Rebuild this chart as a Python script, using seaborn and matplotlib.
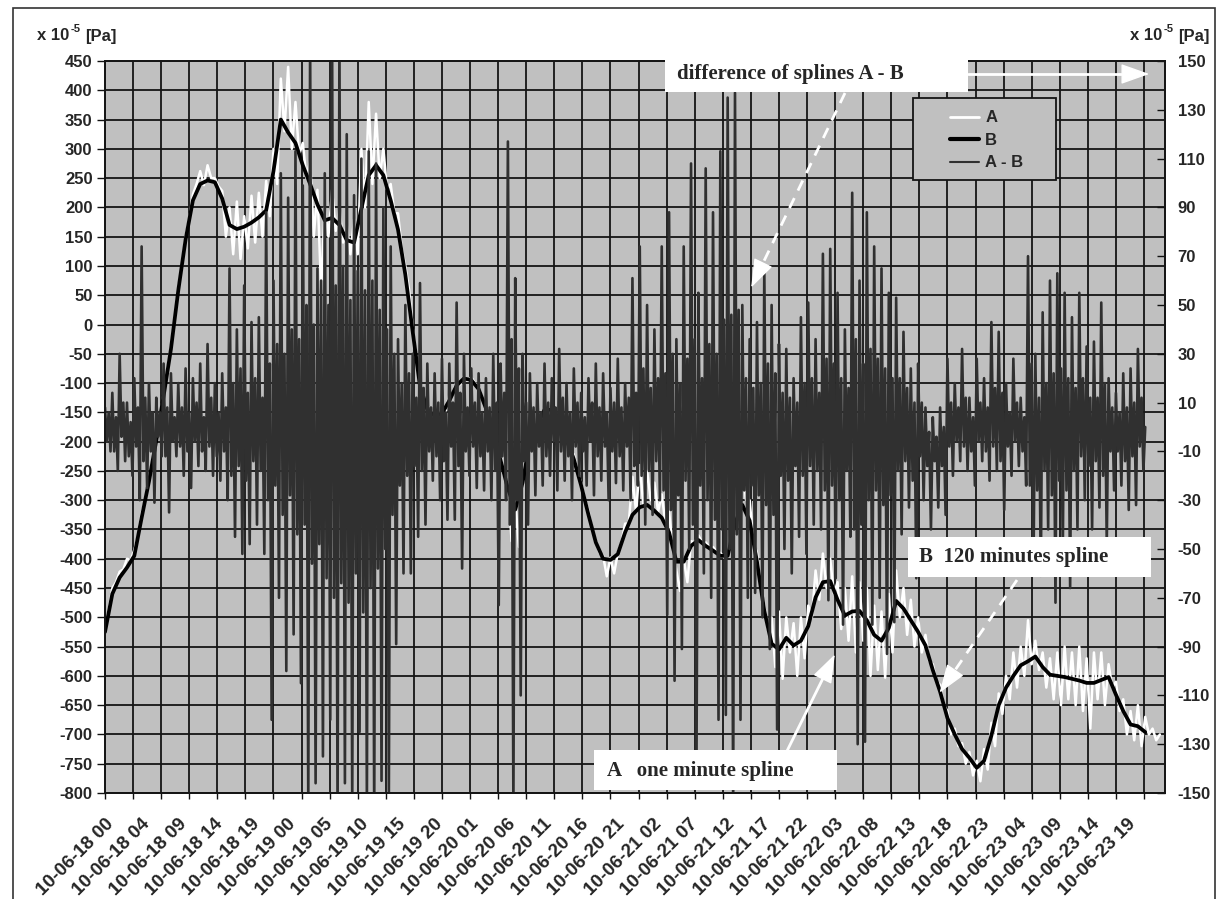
import numpy as np
import matplotlib
matplotlib.use("Agg")
import matplotlib.pyplot as plt
from matplotlib.patches import Rectangle, FancyArrowPatch
from matplotlib.lines import Line2D
import seaborn as sns

# B: 120 minute spline, one value per hour from 10-06-18 00
B_VALUES = [-525, -460, -432, -415, -395, -330, -268, -198, -122, -42,
            58, 145, 212, 240, 246, 243, 215, 170, 163, 167,
            174, 183, 195, 262, 350, 328, 310, 272, 240, 205,
            178, 182, 170, 144, 140, 198, 255, 272, 255, 212,
            162, 85, -12, -105, -145, -156, -152, -130, -104, -92,
            -95, -110, -143, -185, -232, -280, -316, -270, -200, -172,
            -145, -146, -160, -196, -230, -275, -325, -372, -400, -402,
            -392, -355, -325, -312, -308, -318, -330, -355, -405, -405,
            -378, -368, -378, -386, -395, -395, -340, -308, -335, -405,
            -489, -545, -555, -535, -548, -540, -515, -466, -440, -438,
            -470, -497, -490, -489, -505, -530, -540, -518, -472, -485,
            -505, -525, -548, -590, -627, -672, -700, -725, -740, -757,
            -745, -702, -650, -620, -600, -582, -575, -567, -585, -598,
            -600, -602, -605, -608, -612, -612, -607, -602, -632, -660,
            -683, -686, -696]

# A: one minute spline, read every half hour (upper / lower swing)
A_VALUES = [-518, -488, -450, -440, -422, -418, -400, -402, -385, -362,
            -322, -300, -262, -232, -192, -160, -118, -80, -38, 8,
            62, 100, 150, 180, 222, 240, 262, 238, 272, 250,
            250, 236, 228, 150, 200, 120, 210, 112, 185, 130,
            220, 140, 225, 150, 245, 185, 300, 240, 420, 330,
            440, 300, 380, 290, 310, 250, 280, 150, 230, 60,
            200, 150, 230, 160, 200, 140, 170, 120, 180, 120,
            300, 200, 380, 240, 360, 250, 300, 230, 240, 190,
            190, 130, 100, 60, -5, -60, -95, -130, -138, -150,
            -148, -165, -140, -148, -120, -118, -96, -102, -88, -96,
            -90, -100, -105, -128, -135, -165, -175, -210, -225, -260,
            -270, -370, -300, -380, -250, -230, -190, -190, -165, -160,
            -140, -150, -140, -150, -158, -175, -190, -215, -222, -252,
            -270, -300, -318, -350, -370, -390, -395, -430, -398, -425,
            -390, -372, -340, -340, -260, -320, -240, -310, -250, -300,
            -270, -320, -290, -340, -320, -380, -420, -455, -400, -440,
            -370, -372, -360, -372, -372, -380, -380, -388, -390, -398,
            -385, -370, -280, -320, -240, -300, -300, -370, -390, -450,
            -480, -520, -500, -585, -490, -605, -500, -560, -510, -600,
            -500, -570, -480, -500, -420, -470, -391, -450, -400, -460,
            -440, -520, -450, -540, -430, -560, -440, -540, -450, -600,
            -480, -590, -490, -603, -460, -560, -420, -500, -450, -530,
            -470, -550, -500, -560, -530, -575, -580, -610, -615, -650,
            -660, -700, -690, -720, -715, -750, -730, -770, -745, -780,
            -725, -760, -680, -720, -630, -665, -600, -640, -560, -620,
            -550, -600, -505, -580, -540, -590, -560, -620, -570, -640,
            -560, -650, -550, -640, -560, -650, -550, -660, -570, -690,
            -560, -640, -560, -650, -580, -620, -610, -660, -640, -700,
            -660, -710, -650, -720, -670, -700, -690, -710, -700]

# A - B (right axis): spike extremes per hour (upper, lower)
D_PEAKS = [8, -10, 14, -18, 30, -14, 10, -20, 20, -30,
           74, -25, 18, -31, 12, -12, 26, -35, 22, -12,
           18, -20, 24, -25, 20, -16, 26, -18, 34, -20,
           18, -22, 22, -30, 65, -45, 40, -52, 58, -48,
           43, -40, 45, -52, 88, -120, 60, -70, 104, -100,
           94, -85, 113, -105, 99, -155, 160, -146, 65, -135,
           104, -120, 160, -160, 160, -146, 120, -155, 95, -125,
           110, -155, 113, -160, 108, -145, 90, -150, 74, -89,
           36, -60, 50, -60, 30, -45, 59, -40, 26, -22,
           22, -30, 28, -38, 26, -38, 51, -58, 30, -20,
           24, -25, 22, -26, 20, -30, 30, -73, 26, -30,
           117, -155, 61, -110, 30, -40, 22, -28, 18, -24,
           26, -20, 20, -26, 32, -22, 18, -30, 24, -20,
           14, -24, 20, -28, 26, -22, 22, -30, 16, -23,
           28, -26, 18, -30, 61, -24, 74, -40, 50, -36,
           40, -30, 74, -77, 88, -104, 36, -91, 74, -50,
           108, -134, 55, -60, 106, -70, 88, -120, 113, -118,
           135, -155, 137, -120, 50, -70, 36, -68, 43, -78,
           65, -91, 50, -124, 34, -50, 32, -60, 20, -45,
           45, -52, 51, -40, 36, -42, 71, -71, 73, -62,
           55, -81, 40, -45, 96, -130, 60, -129, 88, -81,
           74, -70, 65, -93, 55, -80, 53, -44, 39, -33,
           24, -62, 26, -30, 8, -42, 4, -33, 8, -36,
           28, -20, 18, -14, 32, -18, 12, -24, 28, -14,
           20, -22, 43, -18, 39, -34, 18, -20, 28, -16,
           12, -24, 70, -57, 30, -61, 47, -42, 60, -72,
           63, -52, 55, -66, 45, -42, 55, -30, 33, -42,
           35, -33, 51, -48, 20, -26, 14, -24, 22, -34,
           24, -32, 32, -18]

# A - B (right axis): dense core band per hour (lower, upper)
D_CORE = [-6, 6, -10, 4, -4, 10, -12, 2, -8, 8,
          -14, 12, -10, 6, -4, 6, -12, 8, -6, 4,
          -8, 8, -10, 6, -6, 10, -10, 4, -8, 12,
          -12, 6, -10, 8, -20, 18, -16, 24, -22, 14,
          -14, 20, -18, 12, -30, 26, -24, 34, -36, 30,
          -28, 40, -44, 36, -40, 50, -56, 42, -48, 60,
          -62, 50, -70, 58, -64, 66, -72, 52, -60, 64,
          -76, 56, -66, 60, -58, 48, -50, 40, -36, 30,
          -24, 18, -20, 22, -16, 12, -18, 16, -10, 8,
          -12, 10, -14, 6, -8, 10, -16, 14, -10, 8,
          -8, 10, -12, 6, -10, 8, -18, 10, -12, 14,
          -40, 36, -30, 24, -14, 10, -10, 8, -8, 6,
          -12, 10, -6, 8, -10, 12, -12, 6, -8, 10,
          -10, 4, -6, 10, -12, 8, -8, 6, -10, 10,
          -12, 8, -8, 12, -16, 14, -20, 24, -18, 16,
          -14, 20, -26, 22, -34, 30, -28, 18, -22, 28,
          -40, 36, -24, 20, -30, 34, -38, 30, -42, 44,
          -50, 46, -44, 48, -26, 20, -24, 16, -28, 18,
          -32, 26, -36, 22, -20, 14, -22, 12, -16, 10,
          -20, 18, -16, 20, -18, 14, -26, 28, -24, 26,
          -30, 20, -18, 16, -42, 36, -40, 26, -30, 32,
          -26, 28, -32, 24, -28, 20, -18, 20, -14, 16,
          -22, 10, -12, 10, -16, -2, -14, -4, -16, 0,
          -8, 10, -6, 8, -8, 12, -10, 4, -6, 10,
          -10, 8, -8, 16, -14, 14, -8, 6, -6, 10,
          -10, 4, -24, 26, -26, 12, -18, 18, -28, 22,
          -22, 24, -26, 20, -18, 16, -12, 20, -16, 12,
          -14, 12, -20, 18, -10, 8, -10, 6, -14, 8,
          -12, 10, -8, 12]
D_END = 0

TICK_LABELS = ["10-06-18 00", "10-06-18 04", "10-06-18 09", "10-06-18 14", "10-06-18 19",
               "10-06-19 00", "10-06-19 05", "10-06-19 10", "10-06-19 15", "10-06-19 20",
               "10-06-20 01", "10-06-20 06", "10-06-20 11", "10-06-20 16", "10-06-20 21",
               "10-06-21 02", "10-06-21 07", "10-06-21 12", "10-06-21 17", "10-06-21 22",
               "10-06-22 03", "10-06-22 08", "10-06-22 13", "10-06-22 18", "10-06-22 23",
               "10-06-23 04", "10-06-23 09", "10-06-23 14", "10-06-23 19"]

LABEL_STEP_H = 299 / 60   # category label interval
GRID_STEP_H = 230 / 60    # tick mark interval
X_END_H = 144.7

# order of readings within each hour: peak up, core low, core high, peak down
peaks = np.array(D_PEAKS).reshape(-1, 2)
core = np.array(D_CORE).reshape(-1, 2)
d_values = np.append(np.column_stack([peaks[:, 0], core[:, 0], core[:, 1], peaks[:, 1]]).ravel(), D_END)

b_hours = np.arange(len(B_VALUES)) * 1.0
a_hours = np.arange(len(A_VALUES)) * 0.5
d_hours = np.arange(len(d_values)) * 0.25

W, H = 1218, 899
BG = "#c0c0c0"
DARK = "#303030"

sns.set_style("ticks")
plt.rcParams["font.family"] = ["Liberation Sans", "DejaVu Sans"]
plt.rcParams["axes.unicode_minus"] = False

fig = plt.figure(figsize=(W / 100, H / 100), dpi=100)
ax = fig.add_axes([105 / W, 1 - 793 / H, 1060 / W, 732 / H])
ax.set_facecolor(BG)
ax2 = ax.twinx()

sns.lineplot(x=a_hours, y=A_VALUES, ax=ax, color="white", lw=1.8, estimator=None)
sns.lineplot(x=b_hours, y=B_VALUES, ax=ax, color="black", lw=2.7, estimator=None)
sns.lineplot(x=d_hours, y=d_values, ax=ax2, color=DARK, lw=1.9, estimator=None)

ax.set_xlim(0, X_END_H)
ax.set_ylim(-800, 450)
ax2.set_ylim(-150, 150)
ax.set_yticks(range(-800, 451, 50))
ax2.set_yticks(range(-150, 151, 20))
for a in (ax, ax2):
    for t in a.get_yticklabels():
        t.set_fontweight("bold")

ax.xaxis.remove_overlapping_locs = False
ax.set_xticks(np.arange(0, X_END_H, GRID_STEP_H))
ax.set_xticklabels([])
ax.set_xticks(np.arange(len(TICK_LABELS)) * LABEL_STEP_H, minor=True)
ax.set_xticklabels(TICK_LABELS, minor=True, rotation=45, ha="right",
                   rotation_mode="anchor", fontsize=13.5, fontweight="bold")
ax.tick_params(axis="x", which="minor", length=0, pad=16)
ax.tick_params(axis="x", which="major", length=4, width=1, direction="out", color="#111")
ax.tick_params(axis="y", length=6, width=1, direction="out", labelsize=12, pad=3, color="#111")
ax2.tick_params(axis="y", length=6, width=1, direction="in", labelsize=12, pad=9, color="#111")
ax.set_xlabel("")
ax.set_ylabel("")
ax2.set_ylabel("")

ax.grid(True, which="major", color="#151515", lw=1.3)
ax.set_axisbelow(True)
for a in (ax, ax2):
    for s in a.spines.values():
        s.set_color("#151515")
        s.set_linewidth(1.3)
    if a.get_legend() is not None:
        a.get_legend().remove()

# legend box
handles = [Line2D([], [], color="white", lw=2),
           Line2D([], [], color="black", lw=3),
           Line2D([], [], color=DARK, lw=1.5)]
frame = Rectangle((913 / W, 1 - 180 / H), 143 / W, 82 / H, transform=fig.transFigure,
                  facecolor=BG, edgecolor="#151515", lw=1.3, zorder=4)
fig.add_artist(frame)
leg = fig.legend(handles, ["A", "B", "A - B"], loc="upper left",
                 bbox_to_anchor=(942 / W, 1 - 102 / H), frameon=False, borderpad=0,
                 handlelength=1.7, handletextpad=0.4, labelspacing=0.45,
                 prop={"weight": "bold", "size": 12})
leg.set_zorder(5)

def fpos(x, y):
    return (x / W, 1 - y / H)

# unit labels  x 10^-5 [Pa]
for x0 in (37, 1130):
    fig.text(*fpos(x0, 36), "x 10", fontsize=12, fontweight="bold", va="center", ha="left")
    fig.text(*fpos(x0 + 34, 29), "-5", fontsize=8, fontweight="bold", va="center", ha="left")
    fig.text(*fpos(x0 + 48, 36), "[Pa]", fontsize=12, fontweight="bold", va="center", ha="left")

# annotation boxes
serif = {"family": ["Liberation Serif", "DejaVu Serif"], "weight": "bold", "size": 15}
notes = [((665, 58, 968, 92), (677, 74), "difference of splines A - B"),
         ((908, 537, 1151, 577), (919, 557), "B  120 minutes spline"),
         ((594, 750, 837, 790), (607, 771), "A   one minute spline")]
for (x0, y0, x1, y1), (tx, ty), txt in notes:
    fig.add_artist(Rectangle(fpos(x0, y1), (x1 - x0) / W, (y1 - y0) / H,
                             transform=fig.transFigure, facecolor="white",
                             edgecolor="none", zorder=6))
    fig.text(*fpos(tx, ty), txt, va="center", ha="left", fontdict=serif, zorder=7)

def arrow(start, tip, dashed):
    sx, sy = start
    ex, ey = tip
    L = np.hypot(ex - sx, ey - sy)
    ux, uy = (ex - sx) / L, (ey - sy) / L
    bx, by = ex - ux * 18, ey - uy * 18
    fig.add_artist(Line2D([sx / W, bx / W], [1 - sy / H, 1 - by / H],
                          transform=fig.transFigure, color="white", lw=2,
                          ls=(0, (4, 3)) if dashed else "-", zorder=7))
    fig.add_artist(FancyArrowPatch(fpos(bx - ux * 2, by - uy * 2), fpos(ex, ey),
                                   transform=fig.transFigure,
                                   arrowstyle="-|>,head_length=0.9,head_width=0.32",
                                   mutation_scale=20, color="white", lw=1, zorder=7))

arrow((968, 74), (1152, 74), False)
arrow((845, 93), (750, 290), True)
arrow((1017, 580), (938, 695), True)
arrow((787, 751), (836, 652), False)

# outer frame
fig.add_artist(Rectangle((13 / W, -0.01), 1202 / W, 1 - 8 / H + 0.01,
                         transform=fig.transFigure, facecolor="none",
                         edgecolor="#333333", lw=1.2, zorder=8))

fig.savefig("out.png", dpi=100, facecolor="white")
